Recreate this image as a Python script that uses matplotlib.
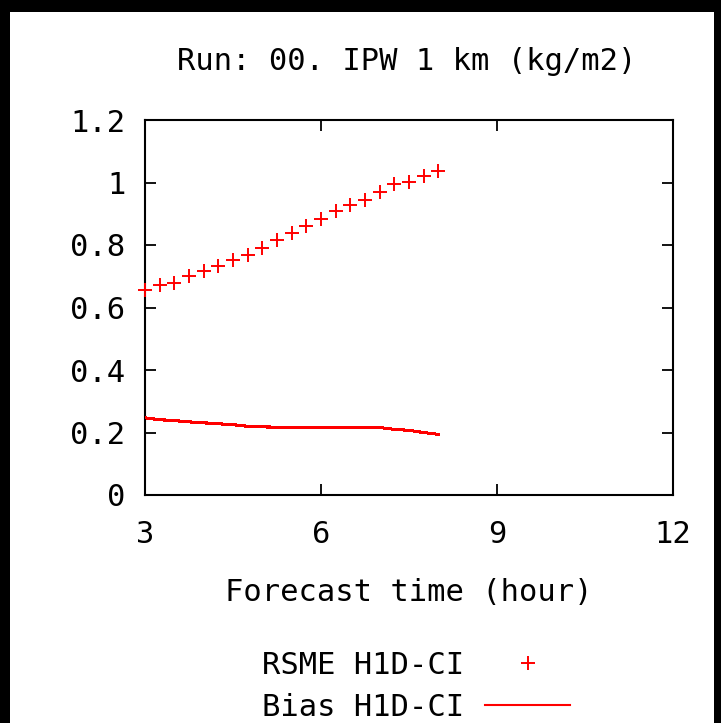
import matplotlib
matplotlib.use("Agg")
import matplotlib.pyplot as plt
from matplotlib.patches import Rectangle
from matplotlib.lines import Line2D

# Forecast hours (every 15 minutes from 3 h to 8 h)
hours = [3.0, 3.25, 3.5, 3.75, 4.0, 4.25, 4.5, 4.75, 5.0, 5.25, 5.5,
         5.75, 6.0, 6.25, 6.5, 6.75, 7.0, 7.25, 7.5, 7.75, 8.0]
rsme = [0.655, 0.671, 0.678, 0.701, 0.717, 0.732, 0.753, 0.767, 0.791,
        0.815, 0.839, 0.860, 0.884, 0.908, 0.927, 0.945, 0.969, 0.994,
        1.001, 1.022, 1.038]
bias = [0.247, 0.241, 0.238, 0.234, 0.231, 0.228, 0.225, 0.220, 0.218,
        0.217, 0.217, 0.217, 0.217, 0.217, 0.217, 0.217, 0.216, 0.210,
        0.207, 0.200, 0.194]

x_ticks = [3, 6, 9, 12]
y_ticks = [0, 0.2, 0.4, 0.6, 0.8, 1.0, 1.2]
y_tick_labels = ["0", "0.2", "0.4", "0.6", "0.8", "1", "1.2"]

title = "Run: 00. IPW 1 km (kg/m2)"
xlabel = "Forecast time (hour)"
series_labels = ["RSME H1D-CI", "Bias H1D-CI"]

FONT = ["DejaVu Sans Mono"]
FS = 22

W, H = 721, 723
fig = plt.figure(figsize=(W / 100, H / 100), dpi=100, facecolor="black")
# white page inside the black frame
fig.patches.append(Rectangle((10 / W, 0), (714 - 10) / W, (H - 12) / H,
                             transform=fig.transFigure, facecolor="white",
                             edgecolor="none", zorder=-10))

ax = fig.add_axes([145 / W, 1 - 495 / H, (673 - 145) / W, (495 - 120) / H])
ax.set_facecolor("white")

ax.plot(hours, rsme, linestyle="none", marker="+", color="red",
        markersize=9.5, markeredgewidth=1.4, clip_on=False, zorder=3)
ax.plot(hours, bias, color="red", linewidth=1.5, antialiased=False, zorder=3)

ax.set_xlim(3, 12)
ax.set_ylim(0, 1.2)
ax.set_xticks(x_ticks)
ax.set_xticklabels([str(t) for t in x_ticks], fontfamily=FONT, fontsize=FS)
ax.set_yticks(y_ticks)
ax.set_yticklabels(y_tick_labels, fontfamily=FONT, fontsize=FS)
ax.tick_params(direction="in", length=8, width=1.3, top=True, right=True,
               colors="black", pad=14)
ax.tick_params(axis="x", pad=18)
for sp in ax.spines.values():
    sp.set_linewidth(1.5)
    sp.set_color("black")

fig.text(407 / W, 1 - 62 / H, title, ha="center", va="center",
         fontfamily=FONT, fontsize=FS)
ax.set_xlabel(xlabel, fontfamily=FONT, fontsize=FS, labelpad=21)

handles = [Line2D([], [], linestyle="none", marker="+", color="red",
                  markersize=9.5, markeredgewidth=1.4),
           Line2D([], [], color="red", linewidth=1.5)]
leg = ax.legend(handles, series_labels, loc="upper left",
                bbox_to_anchor=(262 / W, 1 - 651 / H),
                bbox_transform=fig.transFigure, frameon=False,
                markerfirst=False, handlelength=2.8, handletextpad=0.68,
                labelspacing=0.41, borderpad=0, borderaxespad=0,
                prop={"family": FONT, "size": FS})

fig.savefig("out.png", dpi=100, facecolor="black")
